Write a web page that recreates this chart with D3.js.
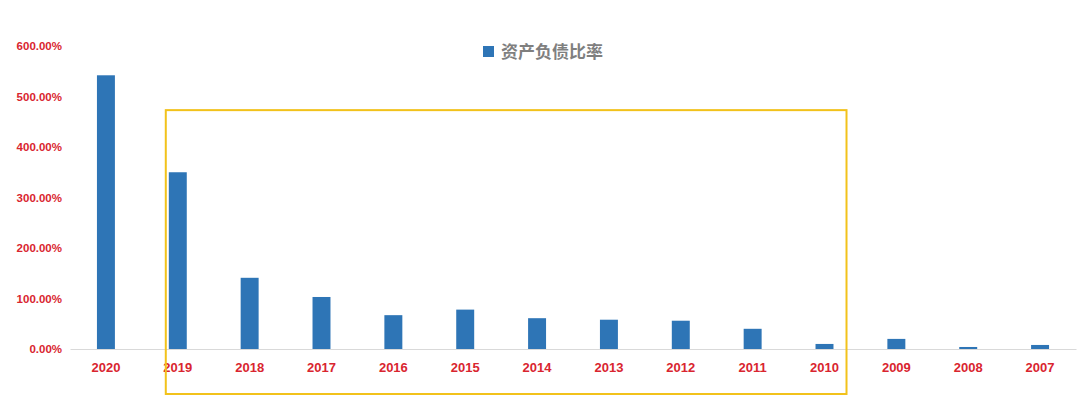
<!DOCTYPE html>
<html>
<head>
<meta charset="utf-8">
<script src="https://cdn.jsdelivr.net/npm/d3@7"></script>
<style>
  body { margin: 0; background: #fff; }
  svg { display: block; }
</style>
</head>
<body>
<svg id="chart"></svg>
<script>
// chart values
const years = ["2020", "2019", "2018", "2017", "2016", "2015", "2014",
               "2013", "2012", "2011", "2010", "2009", "2008", "2007"];
const debtRatio = [542, 350, 141, 103, 67, 78, 61, 58, 56, 40, 10, 20, 4, 8];
const yTicks = [0, 100, 200, 300, 400, 500, 600];
const seriesName = "资产负债比率";
// highlighted years inside the yellow box
const boxFrom = "2019", boxTo = "2010";

const width = 1080, height = 413;
const margin = { top: 46, right: 4, bottom: 64, left: 70 };

const svg = d3.select("#chart")
  .attr("width", width)
  .attr("height", height);

const x = d3.scaleBand()
  .domain(years)
  .range([margin.left, width - margin.right])
  .paddingInner(0.75)
  .paddingOuter(0.375);

const y = d3.scaleLinear()
  .domain([0, 600])
  .range([height - margin.bottom, margin.top]);

const data = years.map((yr, i) => ({ year: yr, value: debtRatio[i] }));

// y axis labels (no line)
const yAxis = svg.append("g")
  .attr("transform", `translate(${margin.left - 8},0)`)
  .call(d3.axisLeft(y).tickValues(yTicks).tickSize(0).tickPadding(0)
    .tickFormat(d => d.toFixed(2) + "%"));
yAxis.select(".domain").remove();
yAxis.selectAll("text")
  .style("font-family", "'Liberation Sans', Arial, sans-serif")
  .style("font-size", "11.5px")
  .style("font-weight", "700")
  .style("fill", "#d9252f");

// bars
svg.append("g")
  .selectAll("rect")
  .data(data)
  .enter()
    .append("rect")
      .attr("x", d => x(d.year))
      .attr("y", d => y(d.value))
      .attr("width", x.bandwidth())
      .attr("height", d => y(0) - y(d.value))
      .attr("fill", "#2e75b6");

// x axis
const xAxis = svg.append("g")
  .attr("transform", `translate(0,${y(0)})`)
  .call(d3.axisBottom(x).tickSize(0).tickPadding(14));
xAxis.select(".domain")
  .attr("stroke", "#d9d9d9")
  .attr("stroke-width", 1.2);
xAxis.selectAll("text")
  .style("font-family", "'Liberation Sans', Arial, sans-serif")
  .style("font-size", "13px")
  .style("font-weight", "700")
  .style("fill", "#d9252f");

// legend
const legend = svg.append("g")
  .attr("transform", `translate(483,46)`);
legend.append("rect")
  .attr("width", 11)
  .attr("height", 11)
  .attr("fill", "#2e75b6");
legend.append("text")
  .attr("x", 18)
  .attr("y", 6)
  .attr("dy", "0.36em")
  .style("font-family", "'Noto Sans CJK SC', sans-serif")
  .style("font-size", "17px")
  .style("font-weight", "700")
  .style("fill", "#7f7f7f")
  .text(seriesName);

// yellow highlight box
const step = x.step();
const boxLeft = x(boxFrom) + x.bandwidth() / 2 - 12;
const boxRight = x(boxTo) + x.bandwidth() / 2 + 22;
svg.append("rect")
  .attr("x", boxLeft)
  .attr("y", y(473))
  .attr("width", boxRight - boxLeft)
  .attr("height", y(0) + 45 - y(473))
  .attr("fill", "none")
  .attr("stroke", "#f2c21b")
  .attr("stroke-width", 2);
</script>
</body>
</html>
